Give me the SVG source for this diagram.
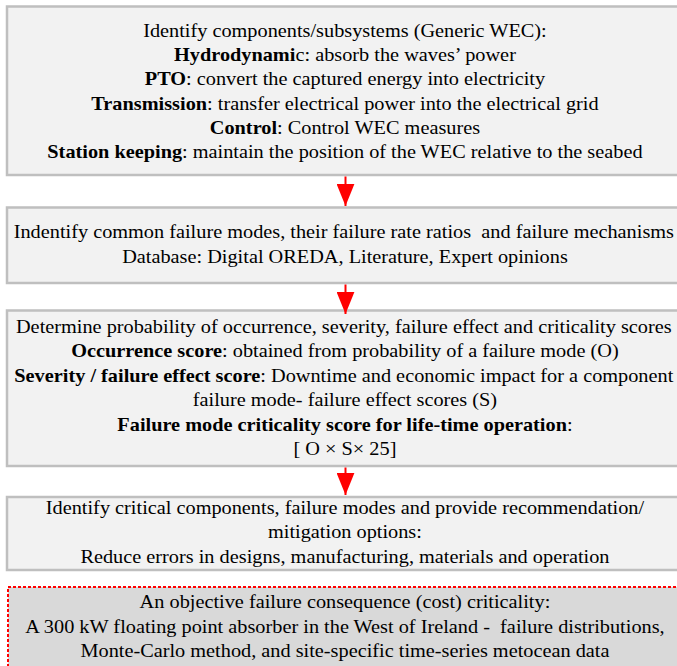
<svg xmlns="http://www.w3.org/2000/svg" width="677" height="666" viewBox="0 0 677 666">
<defs>
<style>
.box{fill:#f2f2f2;stroke:#bfbfbf;stroke-width:2.5}
.dbox{fill:#d9d9d9;stroke:#ff0000;stroke-width:2;stroke-dasharray:3 2}
.t{font-family:'Liberation Serif','Times New Roman',serif;font-size:18px;fill:#000;text-anchor:middle}
.b{font-weight:bold}
.conn line{stroke:#ff0000;stroke-width:2}
</style>
<marker id="ah" markerUnits="userSpaceOnUse" markerWidth="18" markerHeight="22" refX="8.5" refY="21" viewBox="0 0 17 21">
<path d="M0,0 L17,0 L8.5,21 Z" fill="#ff0000"/>
</marker>
</defs>
<rect width="677" height="666" fill="#ffffff"/>
<g id="n1">
<rect class="box" x="7" y="6.5" width="690" height="168.5"/>
<g class="t" transform="matrix(1.128,0,0,1,-44.2,0)">
<text x="345" y="37">Identify components/subsystems (Generic WEC):</text>
<text x="345" y="61"><tspan class="b">Hydrodynami</tspan>c: absorb the waves’ power</text>
<text x="345" y="85.5"><tspan class="b">PTO</tspan>: convert the captured energy into electricity</text>
<text x="345" y="110"><tspan class="b">Transmission</tspan>: transfer electrical power into the electrical grid</text>
<text x="345" y="134"><tspan class="b">Control</tspan>: Control WEC measures</text>
<text x="345" y="158.5"><tspan class="b">Station keeping</tspan>: maintain the position of the WEC relative to the seabed</text>
</g>
</g>
<g id="n2">
<rect class="box" x="7" y="207.5" width="690" height="75.5"/>
<g class="t" transform="matrix(1.128,0,0,1,-44.2,0)">
<text x="344" y="238" xml:space="preserve">Indentify common failure modes, their failure rate ratios  and failure mechanisms</text>
<text x="345" y="263">Database: Digital OREDA, Literature, Expert opinions</text>
</g>
</g>
<g id="n3">
<rect class="box" x="7" y="310.5" width="690" height="155.5"/>
<g class="t" transform="matrix(1.128,0,0,1,-44.2,0)">
<text x="344" y="333">Determine probability of occurrence, severity, failure effect and criticality scores</text>
<text x="345" y="357.5"><tspan class="b">Occurrence score</tspan>: obtained from probability of a failure mode (O)</text>
<text x="344" y="382"><tspan class="b">Severity / failure effect score</tspan>: Downtime and economic impact for a component</text>
<text x="345" y="406.5">failure mode- failure effect scores (S)</text>
<text x="345" y="431"><tspan class="b">Failure mode criticality score for life-time operation</tspan>:</text>
<text x="345" y="455">[ O × S× 25]</text>
</g>
</g>
<g id="n4">
<rect class="box" x="7" y="497" width="690" height="73"/>
<g class="t" transform="matrix(1.128,0,0,1,-44.2,0)">
<text x="345" y="514.5">Identify critical components, failure modes and provide recommendation/</text>
<text x="345" y="538.5">mitigation options:</text>
<text x="345" y="563">Reduce errors in designs, manufacturing, materials and operation</text>
</g>
</g>
<g id="n5">
<rect class="dbox" x="8" y="587" width="690" height="100"/>
<g class="t" transform="matrix(1.128,0,0,1,-44.2,0)">
<text x="345" y="608">An objective failure consequence (cost) criticality:</text>
<text x="345" y="633" xml:space="preserve">A 300 kW floating point absorber in the West of Ireland -  failure distributions,</text>
<text x="345" y="657">Monte-Carlo method, and site-specific time-series metocean data</text>
</g>
</g>
<g id="connectors" class="conn">
<line x1="345.5" y1="176.5" x2="345.5" y2="206" marker-end="url(#ah)"/>
<line x1="345.5" y1="284.5" x2="345.5" y2="314" marker-end="url(#ah)"/>
<line x1="345.5" y1="467.5" x2="345.5" y2="495" marker-end="url(#ah)"/>
</g>
</svg>
